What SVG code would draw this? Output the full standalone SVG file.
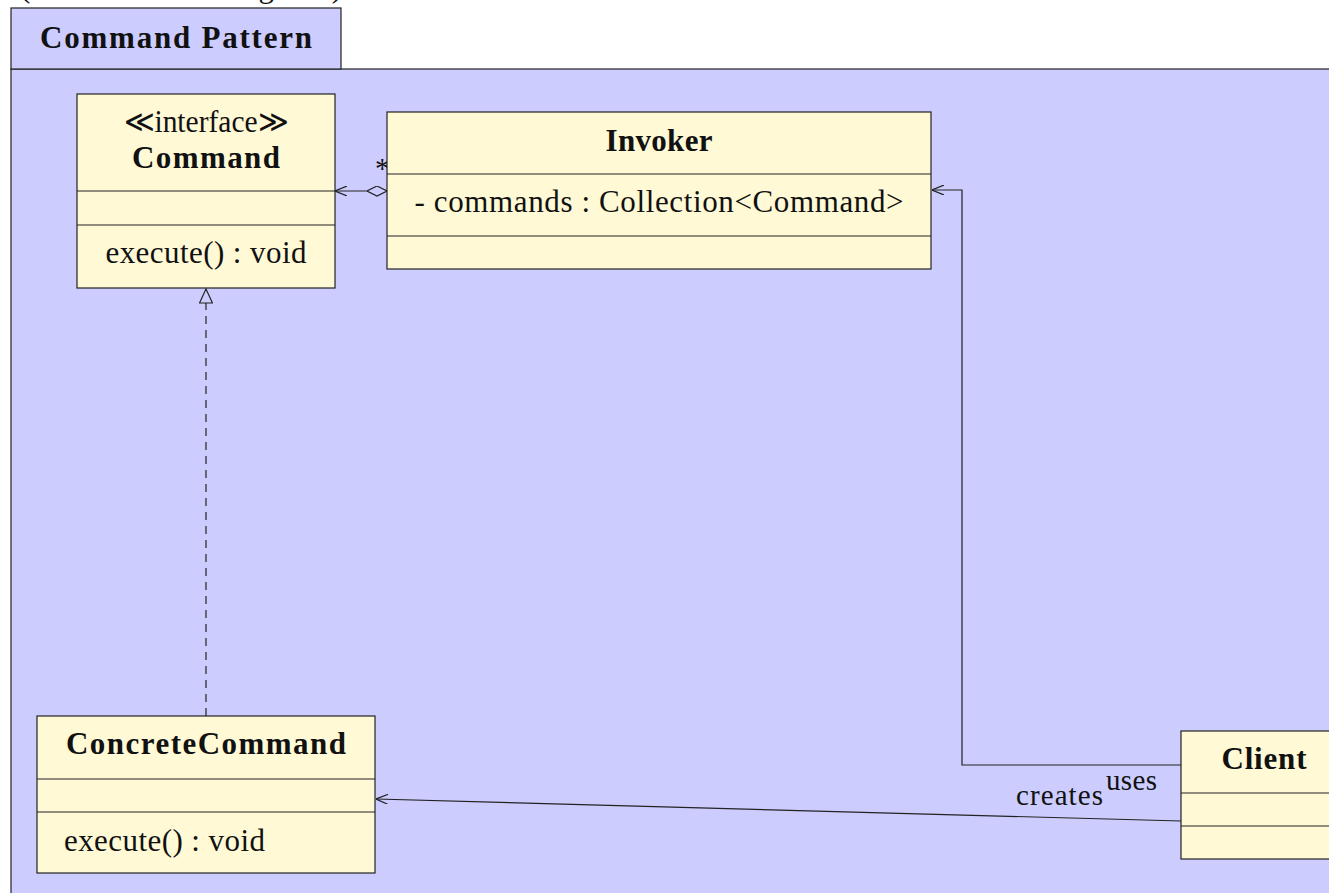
<svg xmlns="http://www.w3.org/2000/svg" width="1329" height="893" viewBox="0 0 1329 893">
  <style>
    .frame { fill: #ccccff; stroke: #222; stroke-width: 1.2; }
    .cls { fill: #fff9d6; stroke: #222; stroke-width: 1.2; }
    .sep { stroke: #222; stroke-width: 1.2; }
    .t { font-family: "Liberation Serif", "DejaVu Serif", serif; font-size: 31px; fill: #111; }
    .b { font-weight: bold; }
    .m { text-anchor: middle; }
    .lbl { font-family: "Liberation Serif", "DejaVu Serif", serif; font-size: 29px; fill: #111; }
    .edge { fill: none; stroke: #222; stroke-width: 1.2; }
    .dash { stroke-dasharray: 8 6; }
  </style>
  <defs>
    <marker id="open-arrow" viewBox="0 0 12 10" refX="12" refY="5" markerWidth="12" markerHeight="10" markerUnits="userSpaceOnUse" orient="auto">
      <path d="M0,0 L12,5 L0,10" fill="none" stroke="#222" stroke-width="1.2"/>
    </marker>
    <marker id="diamond" viewBox="0 0 20 11" refX="0" refY="5.5" markerWidth="20" markerHeight="11" markerUnits="userSpaceOnUse" orient="auto">
      <path d="M0,5.5 L10,0.5 L20,5.5 L10,10.5 Z" fill="#ccccff" stroke="#222" stroke-width="1.2"/>
    </marker>
    <marker id="hollow-triangle" viewBox="0 0 16 14" refX="15" refY="7" markerWidth="16" markerHeight="14" markerUnits="userSpaceOnUse" orient="auto">
      <path d="M15,7 L1,0.5 L1,13.5 Z" fill="#ccccff" stroke="#222" stroke-width="1.2" stroke-dasharray="none"/>
    </marker>
  </defs>

  <rect width="1329" height="893" fill="#ffffff"/>

  <!-- caption above the package tab, mostly outside the canvas -->
  <text class="t" x="20" y="-3" font-size="34" textLength="322" lengthAdjust="spacing">(UML Class Diagram)</text>

  <!-- package frame -->
  <g id="package">
    <rect class="frame" x="11" y="69" width="1340" height="840"/>
    <rect class="frame" x="11" y="8" width="330" height="61"/>
    <text class="t b m" x="176" y="48" textLength="272" lengthAdjust="spacing">Command Pattern</text>
  </g>

  <!-- connectors -->
  <g id="connectors">
    <path class="edge" d="M387,191 L335,191" marker-start="url(#diamond)" marker-end="url(#open-arrow)"/>
    <text class="lbl" x="375" y="178">*</text>
    <path class="edge dash" d="M206,716 L206,289" marker-end="url(#hollow-triangle)"/>
    <path class="edge" d="M1181,765 L962,765 L962,190 L932,190" marker-end="url(#open-arrow)"/>
    <text class="lbl" x="1106" y="790" textLength="51" lengthAdjust="spacing">uses</text>
    <path class="edge" d="M1181,821 L376,799" marker-end="url(#open-arrow)"/>
    <text class="lbl" x="1016" y="805" textLength="87" lengthAdjust="spacing">creates</text>
  </g>

  <!-- Command interface -->
  <g id="command">
    <rect class="cls" x="77" y="94" width="258" height="194"/>
    <line class="sep" x1="77" y1="191" x2="335" y2="191"/>
    <line class="sep" x1="77" y1="225" x2="335" y2="225"/>
    <text class="t m" x="206" y="132" textLength="164" lengthAdjust="spacingAndGlyphs">≪interface≫</text>
    <text class="t b m" x="206" y="168" textLength="148" lengthAdjust="spacing">Command</text>
    <text class="t m" x="206" y="263" textLength="201" lengthAdjust="spacing">execute() : void</text>
  </g>

  <!-- Invoker -->
  <g id="invoker">
    <rect class="cls" x="387" y="112" width="544" height="157"/>
    <line class="sep" x1="387" y1="174" x2="931" y2="174"/>
    <line class="sep" x1="387" y1="236" x2="931" y2="236"/>
    <text class="t b m" x="659" y="151" textLength="107" lengthAdjust="spacing">Invoker</text>
    <text class="t m" x="659" y="212" textLength="489" lengthAdjust="spacing">- commands : Collection&lt;Command&gt;</text>
  </g>

  <!-- ConcreteCommand -->
  <g id="concrete-command">
    <rect class="cls" x="37" y="716" width="338" height="157"/>
    <line class="sep" x1="37" y1="779" x2="375" y2="779"/>
    <line class="sep" x1="37" y1="812" x2="375" y2="812"/>
    <text class="t b m" x="206" y="754" textLength="280" lengthAdjust="spacing">ConcreteCommand</text>
    <text class="t" x="64" y="851" textLength="201" lengthAdjust="spacing">execute() : void</text>
  </g>

  <!-- Client -->
  <g id="client">
    <rect class="cls" x="1181" y="731" width="166" height="128"/>
    <line class="sep" x1="1181" y1="793" x2="1347" y2="793"/>
    <line class="sep" x1="1181" y1="826" x2="1347" y2="826"/>
    <text class="t b m" x="1264" y="769" textLength="85" lengthAdjust="spacing">Client</text>
  </g>
</svg>
